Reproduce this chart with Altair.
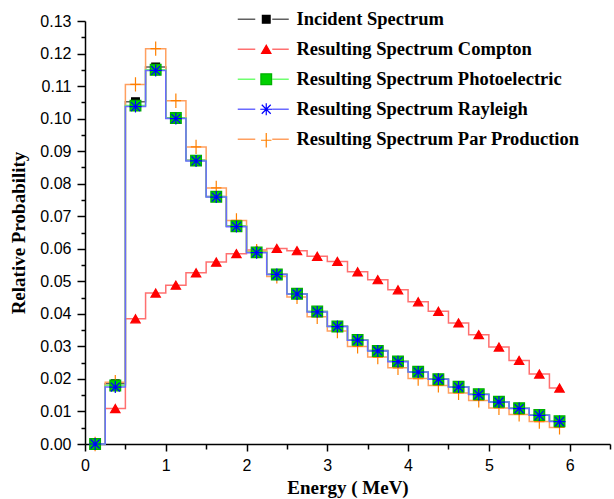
import altair as alt
import pandas as pd

energy = [0.125, 0.375, 0.625, 0.875, 1.125, 1.375, 1.625, 1.875, 2.125, 2.375, 2.625, 2.875,
          3.125, 3.375, 3.625, 3.875, 4.125, 4.375, 4.625, 4.875, 5.125, 5.375, 5.625, 5.875]

incident = [0.0, 0.0185, 0.1052, 0.1159, 0.1003, 0.0872, 0.0761, 0.0670, 0.0590, 0.0522, 0.0462, 0.0407,
            0.0362, 0.0320, 0.0287, 0.0254, 0.0222, 0.0200, 0.0176, 0.0153, 0.0130, 0.0110, 0.0089, 0.0070]
compton = [0.0, 0.0109, 0.0385, 0.0464, 0.0488, 0.0526, 0.0559, 0.0585, 0.0596, 0.0601, 0.0594, 0.0577,
           0.0561, 0.0529, 0.0505, 0.0474, 0.0437, 0.0408, 0.0372, 0.0336, 0.0298, 0.0257, 0.0215, 0.0172]
photoelectric = [0.0, 0.0180, 0.1040, 0.1150, 0.1002, 0.0871, 0.0760, 0.0669, 0.0589, 0.0521, 0.0462, 0.0407,
                 0.0361, 0.0320, 0.0286, 0.0254, 0.0222, 0.0199, 0.0176, 0.0153, 0.0130, 0.0110, 0.0089, 0.0070]
rayleigh = [0.0, 0.0175, 0.1037, 0.1148, 0.1000, 0.0870, 0.0759, 0.0668, 0.0588, 0.0521, 0.0461, 0.0406,
            0.0361, 0.0319, 0.0286, 0.0253, 0.0221, 0.0199, 0.0175, 0.0152, 0.0129, 0.0109, 0.0088, 0.0069]
pair = [0.0, 0.0190, 0.1105, 0.1215, 0.1055, 0.0913, 0.0787, 0.0687, 0.0593, 0.0515, 0.0452, 0.0391,
        0.0347, 0.0300, 0.0267, 0.0234, 0.0201, 0.0180, 0.0157, 0.0134, 0.0111, 0.0091, 0.0069, 0.0051]

series_names = ["Incident Spectrum", "Resulting Spectrum Compton", "Resulting Spectrum Photoelectric",
                "Resulting Spectrum Rayleigh", "Resulting Spectrum Par Production"]
draw_order = [0, 1, 4, 2, 3]
all_values = [incident, compton, photoelectric, rayleigh, pair]

marker_fill = ["#000000", "#ff0000", "#00d000", "#8080ff", "#ff8000"]
marker_stroke = ["#000000", "#ff0000", "#00b000", "#0000ff", "#ff8000"]
line_colors = ["#606060", "#ff7070", "#70ff70", "#6a6aff", "#ffa060"]
shapes = ["square", "triangle-up", "square",
          "M-1,0L1,0M0,-1L0,1M-0.75,-0.75L0.75,0.75M-0.75,0.75L0.75,-0.75",
          "M-0.8,0L0.8,0M0,-1.1L0,1.1"]
sizes = [60, 170, 28, 140, 110]

x_ticks = [0, 0.5, 1, 1.5, 2, 2.5, 3, 3.5, 4, 4.5, 5, 5.5, 6, 6.5]
y_ticks = [0.0, 0.005, 0.01, 0.015, 0.02, 0.025, 0.03, 0.035, 0.04, 0.045, 0.05, 0.055, 0.06, 0.065,
           0.07, 0.075, 0.08, 0.085, 0.09, 0.095, 0.1, 0.105, 0.11, 0.115, 0.12, 0.125, 0.13]

rows = []
for i in draw_order:
    for e, v in zip(energy, all_values[i]):
        rows.append({"energy": e, "prob": v, "series": series_names[i], "line_series": series_names[i]})
df = pd.DataFrame(rows)

x_axis = alt.Axis(
    values=x_ticks, tickCount=40, title="Energy ( MeV)", format=".1f",
    labelExpr="slice(datum.label, -1) == '0' ? slice(datum.label, 0, -2) : ''",
    tickSize={"condition": {"test": "round(datum.value * 10) % 10 == 0", "value": 7}, "value": 5},
    labelOverlap=False, labelFlush=False, grid=False, labelPadding=6, titlePadding=5,
)
y_axis = alt.Axis(
    values=y_ticks, tickCount=60, title="Relative Probability", format=".3f",
    labelExpr="slice(datum.label, -1) == '0' ? slice(datum.label, 0, -1) : ''",
    tickSize={"condition": {"test": "round(datum.value * 1000) % 10 == 0", "value": 8}, "value": 4},
    labelOverlap=False, labelFlush=False, labelBound=False, grid=False, labelPadding=6, titlePadding=11,
)

xs = alt.Scale(domain=[0, 6.5], nice=False, zero=False)
ys = alt.Scale(domain=[0, 0.13], nice=False)

line_legend = alt.Legend(
    title=None, orient="none", legendX=169.5, legendY=-11,
    symbolType="M-5.2,0L-1.7,0M1.7,0L5.0,0", symbolSize=100,
    symbolStrokeWidth=1.5, labelFont="Liberation Serif", labelFontWeight="bold", labelFontSize=18.5,
    labelColor="black", labelOffset=23.5, rowPadding=11, padding=0, labelLimit=0,
)
point_legend = alt.Legend(
    title=None, orient="none", legendX=172, legendY=-11, symbolStrokeWidth=1.2,
    labelFont="Liberation Serif", labelFontWeight="bold", labelFontSize=18.5,
    labelExpr="''", rowPadding=11, padding=0, labelLimit=0,
)

lines = alt.Chart(df).mark_line(interpolate="step", strokeWidth=1.5).encode(
    x=alt.X("energy:Q", scale=xs, axis=x_axis),
    y=alt.Y("prob:Q", scale=ys, axis=y_axis),
    color=alt.Color("line_series:N", sort=series_names, scale=alt.Scale(range=line_colors), legend=line_legend),
)

points = alt.Chart(df).mark_point(filled=True, strokeWidth=1.2, opacity=1).encode(
    x=alt.X("energy:Q", scale=xs),
    y=alt.Y("prob:Q", scale=ys),
    shape=alt.Shape("series:N", scale=alt.Scale(domain=series_names, range=shapes), legend=point_legend),
    fill=alt.Fill("series:N", scale=alt.Scale(domain=series_names, range=marker_fill), legend=point_legend),
    stroke=alt.Stroke("series:N", scale=alt.Scale(domain=series_names, range=marker_stroke), legend=point_legend),
    size=alt.Size("series:N", scale=alt.Scale(domain=series_names, range=sizes), legend=point_legend),
)

chart = alt.layer(lines, points).properties(
    width=525, height=423,
    padding={"left": 85, "top": 21, "right": 4, "bottom": 55},
    autosize=alt.AutoSizeParams(type="none"),
    background="white",
).configure_view(stroke=None).configure_axis(
    domainColor="black", domainWidth=1.5, tickColor="black", tickWidth=1.5,
    labelFont="Liberation Sans", labelFontSize=16, labelColor="black", labelOverlap=False,
    titleFont="Liberation Serif", titleFontWeight="bold", titleFontSize=19, titleColor="black",
)

chart.save("out.html", embed_options={"renderer": "svg", "actions": False})
